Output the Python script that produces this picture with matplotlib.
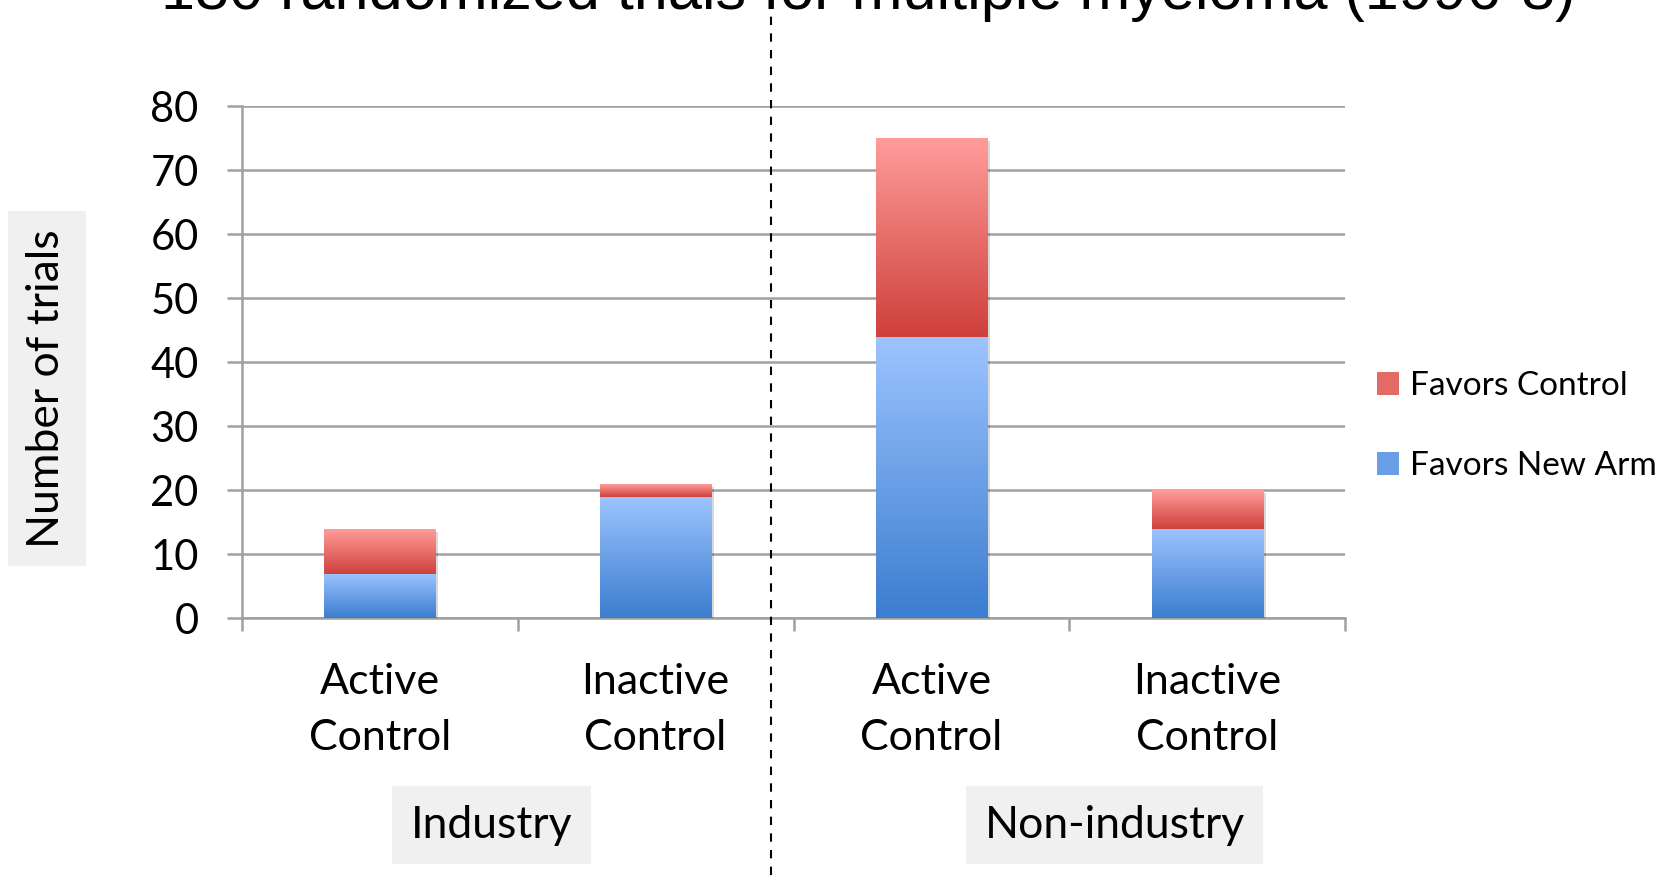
import numpy as np
import matplotlib
matplotlib.use("Agg")
import matplotlib.pyplot as plt
from matplotlib.colors import LinearSegmentedColormap
from matplotlib.patches import Patch
from matplotlib.lines import Line2D
import matplotlib.patheffects as pe

# data
categories = ["Active\nControl", "Inactive\nControl", "Active\nControl", "Inactive\nControl"]
groups = ["Industry", "Non-industry"]
favors_new_arm = [7, 19, 44, 14]
favors_control = [7, 2, 31, 6]
title = "130 randomized trials for multiple myeloma (1996-8)"

red_top, red_bottom = "#ff9c9a", "#cf403b"
blue_top, blue_bottom = "#9dc4ff", "#3b7dcf"
grid_col = "#a0a0a0"

plt.rcParams["font.family"] = ["Lato", "DejaVu Sans"]

fig = plt.figure(figsize=(16.69, 8.75), dpi=100)
ax = fig.add_axes([0.1448, 0.2933, 0.6613, 0.5851])

x = np.arange(len(categories))
width = 0.405
shadow = [pe.SimplePatchShadow(offset=(2, -2), shadow_rgbFace="k", alpha=0.15), pe.Normal()]

bars_new = ax.bar(x, favors_new_arm, width, color="white", zorder=3, path_effects=shadow)
bars_ctl = ax.bar(x, favors_control, width, bottom=favors_new_arm, color="white", zorder=3,
                  path_effects=shadow)


def fill_gradient(bars, top, bottom):
    cmap = LinearSegmentedColormap.from_list("g", [bottom, top])
    grad = np.linspace(0, 1, 256).reshape(-1, 1)
    for b in bars:
        bx, by = b.get_xy()
        im = ax.imshow(grad, extent=[bx, bx + b.get_width(), by, by + b.get_height()],
                       origin="lower", cmap=cmap, aspect="auto", zorder=4)
        im.set_clip_path(b)


fill_gradient(bars_new, blue_top, blue_bottom)
fill_gradient(bars_ctl, red_top, red_bottom)

ax.set_xlim(-0.5, len(categories) - 0.5)
ax.set_ylim(0, 80)
ax.set_yticks(range(0, 81, 10))
ax.yaxis.grid(True, color=grid_col, lw=1.8, zorder=0)
ax.set_axisbelow(True)

for s in ["top", "right"]:
    ax.spines[s].set_visible(False)
for s in ["left", "bottom"]:
    ax.spines[s].set_color(grid_col)
    ax.spines[s].set_linewidth(1.8)

ax.tick_params(axis="y", length=11, width=1.8, color=grid_col, labelsize=30, pad=20)
ax.set_xticks(np.arange(-0.5, len(categories), 1.0))
ax.set_xticklabels([])
ax.tick_params(axis="x", which="major", length=9, width=1.8, color=grid_col)
ax.set_xticks(x, minor=True)
ax.set_xticklabels(categories, minor=True, fontsize=31, linespacing=1.6)
ax.tick_params(axis="x", which="minor", length=0, pad=32)

# group labels
box = dict(boxstyle="square,pad=0.42", facecolor="#f0f0f0", edgecolor="none")
fig.text(0.2947, 0.0571, groups[0], ha="center", va="center", fontsize=32, bbox=box)
fig.text(0.6678, 0.0571, groups[1], ha="center", va="center", fontsize=32, bbox=box)

# y label
fig.text(0.028, 0.556, "Number of trials", rotation=90, ha="center", va="center", fontsize=32,
         bbox=dict(boxstyle="square,pad=0.42", facecolor="#f0f0f0", edgecolor="none"))

# dashed divider
fig.add_artist(Line2D([0.4617, 0.4617], [0, 1], transform=fig.transFigure, color="black",
                      lw=1.5, dashes=(4, 4)))

# title, cut off at the top
fig.text(0.52, 1 - 9 / 875, title, ha="center", va="baseline", fontsize=44,
         family="Liberation Sans")

handles = [Patch(facecolor="#e56a66", edgecolor="none"), Patch(facecolor="#6a9fe6", edgecolor="none")]
fig.legend(handles, ["Favors Control", "Favors New Arm"], loc="center left",
           bbox_to_anchor=(0.807, 0.513), frameon=False, fontsize=24, handlelength=0.65,
           handleheight=0.65, handletextpad=0.35, labelspacing=1.5)

fig.savefig("out.png", dpi=100)
